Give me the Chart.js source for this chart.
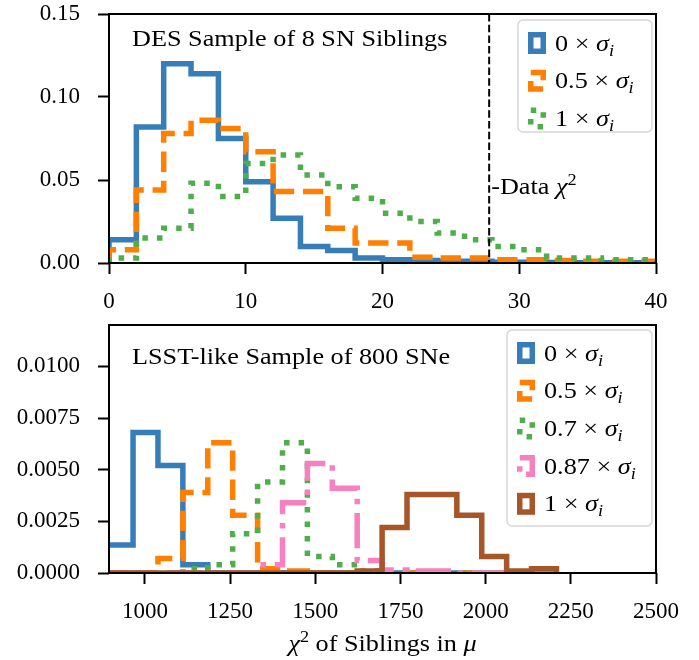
<!DOCTYPE html>
<html>
<head>
<meta charset="utf-8">
<script src="https://cdn.jsdelivr.net/npm/chart.js@4.4.1/dist/chart.umd.min.js"></script>
<style>
  html, body { margin: 0; padding: 0; background: #fff; }
  #wrap { position: relative; width: 699px; height: 660px; }
  .panel { position: absolute; left: 0; width: 699px; }
</style>
</head>
<body>
<div id="wrap">
  <div class="panel" style="top:0;height:320px"><canvas id="desChart" width="699" height="320"></canvas></div>
  <div class="panel" style="top:320px;height:340px"><canvas id="lsstChart" width="699" height="340"></canvas></div>
</div>
<script>
const SERIF = "'Liberation Serif', 'DejaVu Serif', serif";
const STRETCH = 1.14; // widen annotation text a bit (the original uses a wider TeX font)

// --- top panel: DES sample of 8 SN siblings ---
const desEdges = [0, 2, 4, 6, 8, 10, 12, 14, 16, 18, 20, 22, 24, 26, 28, 30, 32, 34, 36, 38, 40];
const desSigma0 = [0.014, 0.082, 0.120, 0.114, 0.075, 0.049, 0.027, 0.010, 0.0075, 0.003,
                   0.002, 0.0015, 0.001, 0.001, 0.0005, 0.0005, 0.0003, 0.0002, 0.0001, 0.0001];
const desSigma05 = [0.008, 0.044, 0.078, 0.086, 0.081, 0.067, 0.043, 0.043, 0.021, 0.012,
                    0.012, 0.0035, 0.003, 0.003, 0.002, 0.002, 0.0015, 0.001, 0.001, 0.001];
const desSigma1 = [0.003, 0.015, 0.021, 0.048, 0.040, 0.060, 0.065, 0.053, 0.046, 0.039,
                   0.030, 0.025, 0.018, 0.014, 0.010, 0.008, 0.003, 0.003, 0.002, 0.002];
const desLabels = ['0', '0.5', '1'];
const desDataChi2 = 27.8;
const desXTicks = [0, 10, 20, 30, 40];
const desYTicks = [0, 0.05, 0.10, 0.15];

// --- bottom panel: LSST-like sample of 800 SNe ---
const lsstEdges = [892, 965.1, 1038.2, 1111.3, 1184.4, 1257.5, 1330.6, 1403.7, 1476.8, 1549.9,
                   1623, 1696.1, 1769.2, 1842.3, 1915.4, 1988.5, 2061.6, 2134.7, 2207.8];
const lsstSigma0 = [0.00135, 0.0068, 0.0052, 0.0004, 0, 0, 0, 0, 0, 0, 0, 0, 0, 0, 0, 0, 0, 0];
const lsstSigma05 = [0, 0, 0.0007, 0.0039, 0.0063, 0.0028, 0.0002, 0.0001, 0, 0, 0, 0, 0, 0, 0, 0, 0, 0];
const lsstSigma07 = [0, 0, 0, 0.0002, 0.0004, 0.0019, 0.0044, 0.0063, 0.0008, 0.0004, 0.0001, 0, 0, 0, 0, 0, 0, 0];
const lsstSigma087 = [0, 0, 0, 0, 0, 0, 0.0004, 0.0034, 0.0053, 0.0041, 0.0006, 0.00015, 0.0001, 0.0001, 0, 0, 0, 0];
const lsstSigma1 = [0, 0, 0, 0, 0, 0, 0, 0, 0, 0, 0.0001, 0.0022, 0.0038, 0.0038, 0.0028, 0.0008, 0.0001, 0.0002];
const lsstLabels = ['0', '0.5', '0.7', '0.87', '1'];
const lsstXTicks = [1000, 1250, 1500, 1750, 2000, 2250, 2500];
const lsstYTicks = [0, 0.0025, 0.005, 0.0075, 0.01];

// line styles (matplotlib-like, scaled to the line width)
const LW = 5.5;
const STYLES = {
  solid: [],
  dashed: [3.7 * LW, 1.6 * LW],
  dotted: [1 * LW, 1.65 * LW],
  dashdot: [6.4 * LW, 1.6 * LW, 1 * LW, 1.6 * LW]
};
const COLORS = ['#377eb8', '#ff7f00', '#4daf4a', '#f781bf', '#a65628'];

// outline of a step histogram
function stepPoints(edges, vals) {
  const pts = [{ x: edges[0], y: 0 }];
  vals.forEach((v, i) => {
    pts.push({ x: edges[i], y: v });
    pts.push({ x: edges[i + 1], y: v });
  });
  pts.push({ x: edges[edges.length - 1], y: 0 });
  return pts;
}

function histDataset(label, edges, vals, color, dash, i) {
  return {
    label: label,
    data: stepPoints(edges, vals),
    borderColor: color,
    borderWidth: LW,
    borderDash: dash,
    borderJoinStyle: 'miter',
    borderCapStyle: 'butt',
    pointRadius: 0,
    fill: false,
    tension: 0,
    clip: 0,
    order: -i
  };
}

// small helper for latex-ish text: r = roman, i = italic, sub / sup
function partFont(f) {
  if (f === 'i') return 'italic 23px ' + SERIF;
  if (f === 'sub') return 'italic 16px ' + SERIF;
  if (f === 'sup') return '16px ' + SERIF;
  return '23px ' + SERIF;
}
function mathWidth(ctx, parts) {
  let w = 0;
  parts.forEach(p => { ctx.font = partFont(p.f); w += ctx.measureText(p.t).width; });
  return w * STRETCH;
}
function drawMath(ctx, x, y, parts, align) {
  if (align === 'center') x -= mathWidth(ctx, parts) / 2;
  ctx.save();
  ctx.translate(x, y);
  ctx.scale(STRETCH, 1);
  ctx.textBaseline = 'alphabetic';
  ctx.textAlign = 'left';
  ctx.fillStyle = '#000';
  let cx = 0;
  parts.forEach(p => {
    ctx.font = partFont(p.f);
    let dy = 0;
    if (p.f === 'sub') dy = 5;
    if (p.f === 'sup') dy = -9;
    ctx.fillText(p.t, cx, dy);
    cx += ctx.measureText(p.t).width;
  });
  ctx.restore();
}

const decoPlugin = {
  id: 'deco',
  afterDatasetsDraw(chart) {
    const o = chart.options.plugins.deco;
    const ctx = chart.ctx;
    const a = chart.chartArea;
    ctx.save();

    // vertical marker line
    if (o.vline !== undefined) {
      const px = chart.scales.x.getPixelForValue(o.vline);
      ctx.strokeStyle = '#000';
      ctx.lineWidth = 2;
      ctx.setLineDash([7.5, 3.2]);
      ctx.beginPath();
      ctx.moveTo(px, a.top);
      ctx.lineTo(px, a.bottom);
      ctx.stroke();
      ctx.setLineDash([]);
      drawMath(ctx, px + 2, a.top + 180, [{ t: '-Data ', f: 'r' }, { t: 'χ', f: 'i' }, { t: '2', f: 'sup' }]);
    }

    // frame
    ctx.strokeStyle = '#000';
    ctx.lineWidth = 2;
    ctx.strokeRect(a.left, a.top, a.right - a.left, a.bottom - a.top);

    // panel title
    drawMath(ctx, a.left + 23, a.top + o.titleDy, [{ t: o.title, f: 'r' }]);

    // legend box
    const lg = o.legend;
    const bx = a.right - 4 - lg.w;
    const by = a.top + lg.dy;
    ctx.beginPath();
    ctx.roundRect(bx, by, lg.w, lg.h, 5);
    ctx.fillStyle = 'rgba(255,255,255,0.8)';
    ctx.fill();
    ctx.strokeStyle = 'rgba(204,204,204,0.8)';
    ctx.lineWidth = 1.5;
    ctx.stroke();

    chart.data.datasets.forEach((ds, i) => {
      const cy = by + 23 + i * 37.7;
      ctx.strokeStyle = ds.borderColor;
      ctx.lineWidth = LW;
      ctx.lineJoin = 'miter';
      ctx.lineCap = 'butt';
      ctx.setLineDash(ds.borderDash);
      ctx.strokeRect(bx + 10 + LW / 2, cy - 11 + LW / 2, 18 - LW, 22 - LW);
      ctx.setLineDash([]);
      drawMath(ctx, bx + 37, cy + 7.5, [
        { t: ds.label + ' × ', f: 'r' }, { t: 'σ', f: 'i' }, { t: 'i', f: 'sub' }
      ]);
    });

    // x axis title
    if (o.xTitle) {
      drawMath(ctx, (a.left + a.right) / 2, a.bottom + 78, o.xTitle, 'center');
    }
    ctx.restore();
  }
};

function panelOptions(p) {
  return {
    responsive: false,
    animation: false,
    layout: { padding: { left: 0, right: 43, top: p.top, bottom: 0 } },
    plugins: {
      legend: { display: false },
      tooltip: { enabled: false },
      deco: p.deco
    },
    scales: {
      x: {
        type: 'linear',
        min: p.xMin,
        max: p.xMax,
        afterBuildTicks: s => { s.ticks = p.xTicks.map(v => ({ value: v })); },
        afterFit: s => { s.height = p.xHeight; s.paddingLeft = 0; s.paddingRight = 0; },
        grid: { drawOnChartArea: false, tickLength: 11, tickWidth: 2, tickColor: '#000' },
        border: { display: false },
        ticks: {
          color: '#000',
          font: { family: SERIF, size: 23 },
          padding: 14,
          maxRotation: 0,
          autoSkip: false,
          callback: v => String(v)
        }
      },
      y: {
        min: 0,
        max: p.yMax,
        afterBuildTicks: s => { s.ticks = p.yTicks.map(v => ({ value: v })); },
        afterFit: s => { s.width = 109; s.paddingTop = 0; s.paddingBottom = 0; },
        grid: { drawOnChartArea: false, tickLength: 11, tickWidth: 2, tickColor: '#000' },
        border: { display: false },
        ticks: {
          color: '#000',
          font: { family: SERIF, size: 23 },
          padding: 18,
          autoSkip: false,
          callback: v => v.toFixed(p.yDigits)
        }
      }
    }
  };
}

new Chart(document.getElementById('desChart'), {
  type: 'line',
  data: {
    datasets: [
      histDataset(desLabels[0], desEdges, desSigma0, COLORS[0], STYLES.solid, 0),
      histDataset(desLabels[1], desEdges, desSigma05, COLORS[1], STYLES.dashed, 1),
      histDataset(desLabels[2], desEdges, desSigma1, COLORS[2], STYLES.dotted, 2)
    ]
  },
  options: panelOptions({
    top: 14, xMin: 0, xMax: 40, yMax: 0.15, xHeight: 57, yDigits: 2,
    xTicks: desXTicks, yTicks: desYTicks,
    deco: {
      title: 'DES Sample of 8 SN Siblings', titleDy: 32,
      vline: desDataChi2,
      legend: { w: 134, h: 112, dy: 6 }
    }
  }),
  plugins: [decoPlugin]
});

new Chart(document.getElementById('lsstChart'), {
  type: 'line',
  data: {
    datasets: [
      histDataset(lsstLabels[0], lsstEdges, lsstSigma0, COLORS[0], STYLES.solid, 0),
      histDataset(lsstLabels[1], lsstEdges, lsstSigma05, COLORS[1], STYLES.dashed, 1),
      histDataset(lsstLabels[2], lsstEdges, lsstSigma07, COLORS[2], STYLES.dotted, 2),
      histDataset(lsstLabels[3], lsstEdges, lsstSigma087, COLORS[3], STYLES.dashdot, 3),
      histDataset(lsstLabels[4], lsstEdges, lsstSigma1, COLORS[4], STYLES.solid, 4)
    ]
  },
  options: panelOptions({
    top: 5, xMin: 894.5, xMax: 2500, yMax: 0.012, xHeight: 87, yDigits: 4,
    xTicks: lsstXTicks, yTicks: lsstYTicks,
    deco: {
      title: 'LSST-like Sample of 800 SNe', titleDy: 39,
      legend: { w: 145, h: 196, dy: 5 },
      xTitle: [{ t: 'χ', f: 'i' }, { t: '2', f: 'sup' }, { t: ' of Siblings in ', f: 'r' }, { t: 'μ', f: 'i' }]
    }
  }),
  plugins: [decoPlugin]
});
</script>
</body>
</html>
